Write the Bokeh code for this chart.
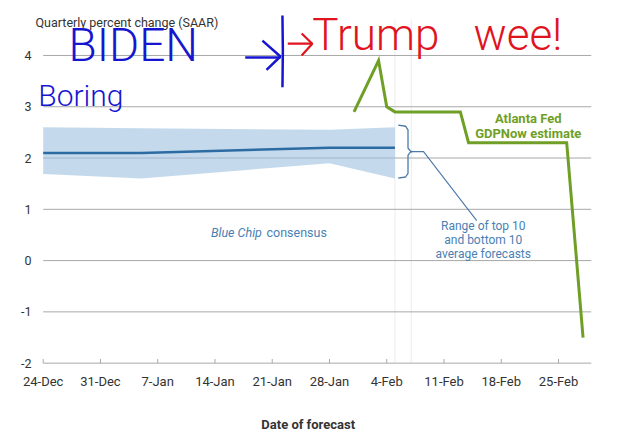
import pandas as pd
from bokeh.plotting import figure
from bokeh.models import Label, Range1d
from bokeh.core.properties import value
from bokeh.embed import file_html
from bokeh.resources import INLINE

# ---------------- data ----------------
origin = pd.Timestamp("2024-12-24")

tick_dates = ["2024-12-24", "2024-12-31", "2025-01-07", "2025-01-14", "2025-01-21",
              "2025-01-28", "2025-02-04", "2025-02-11", "2025-02-18", "2025-02-25"]
tick_labels = ["24-Dec", "31-Dec", "7-Jan", "14-Jan", "21-Jan",
               "28-Jan", "4-Feb", "11-Feb", "18-Feb", "25-Feb"]
y_ticks = [-2, -1, 0, 1, 2, 3, 4]
y_tick_labels = ["-2", "-1", "0", "1", "2", "3", "4"]

bc_dates = ["2024-12-24", "2025-01-05", "2025-01-28", "2025-02-05"]
bc_consensus = [2.1, 2.1, 2.2, 2.2]
bc_top10 = [2.6, 2.58, 2.55, 2.6]
bc_bottom10 = [1.69, 1.6, 1.9, 1.6]

gdpnow_dates = ["2025-01-31", "2025-02-03", "2025-02-04", "2025-02-05",
                "2025-02-13", "2025-02-14", "2025-02-26", "2025-02-28"]
gdpnow_values = [2.9, 3.9, 3.0, 2.9, 2.9, 2.3, 2.3, -1.5]

marker_dates = ["2025-02-05", "2025-02-07"]   # faint vertical guide lines


def days(dates):
    return [(pd.Timestamp(d) - origin).days for d in dates]


tick_x = days(tick_dates)
bc_x = days(bc_dates)
gn_x = days(gdpnow_dates)
mk_x = days(marker_dates)

X_END = 67          # right end of the plotting area (days after origin)
Y_MIN = y_ticks[0]

FONT = "Roboto"
TXT = "#333333"
BLUE_TXT = "#4a7fb3"
GREEN = "#6f9f26"
GRID = "#a8a8a8"

p = figure(width=625, height=433, output_backend="svg", toolbar_location=None,
           x_range=Range1d(-5.22, 71.19), y_range=Range1d(-3.372, 5.072),
           x_axis_location=None, y_axis_location=None,
           min_border_left=0, min_border_right=0, min_border_top=0,
           min_border_bottom=0)
p.title.visible = False
p.outline_line_color = None
p.background_fill_color = "white"
p.border_fill_color = "white"
p.grid.visible = False

# faint vertical guide lines
p.segment(x0=mk_x, x1=mk_x, y0=[Y_MIN] * len(mk_x), y1=[4.7] * len(mk_x),
          line_color="#ececec", line_width=1)

# horizontal grid lines (the lowest one is the x axis line)
p.segment(x0=[0] * len(y_ticks), x1=[X_END] * len(y_ticks), y0=y_ticks, y1=y_ticks,
          line_color=GRID, line_width=1)
# y tick labels
p.text(x=[-1.43] * len(y_ticks), y=y_ticks, text=y_tick_labels,
       text_font=value(FONT), text_font_size="12.5px", text_color=TXT,
       text_align="right", text_baseline="middle")
# x ticks (pointing up) and labels
p.segment(x0=tick_x, x1=tick_x, y0=[Y_MIN] * len(tick_x), y1=[Y_MIN + 0.08] * len(tick_x),
          line_color=GRID, line_width=1)
p.text(x=tick_x, y=[Y_MIN - 0.357] * len(tick_x), text=tick_labels,
       text_font=value(FONT), text_font_size="13px", text_color=TXT,
       text_align="center", text_baseline="middle")

# Blue Chip band and consensus
p.varea(x=bc_x, y1=bc_bottom10, y2=bc_top10, fill_color="#9cc2e0", fill_alpha=0.6)
p.line(bc_x, bc_consensus, line_color="#2d6ca3", line_width=2.5)

# GDPNow
p.line(gn_x, gdpnow_values, line_color=GREEN, line_width=3, line_join="miter")

# brace at end of band
bx = bc_x[-1]
top = bc_top10[-1] + 0.04
bot = bc_bottom10[-1] + 0.01
mid = (top + bot) / 2
brace_x = [bx + 0.4, bx + 1.3, bx + 1.6, bx + 1.6, bx + 1.9, bx + 2.2,
           bx + 1.9, bx + 1.6, bx + 1.6, bx + 1.3, bx + 0.4]
brace_y = [top, top - 0.02, top - 0.09, mid + 0.07, mid + 0.01, mid,
           mid - 0.01, mid - 0.07, bot + 0.09, bot + 0.02, bot]
p.line(brace_x, brace_y, line_color="#4a78a8", line_width=1.3)
p.line([bx + 2.2, bx + 3.5, bx + 10.0], [mid, mid, 0.78], line_color="#4a78a8", line_width=1.1)


# text annotations
def lab(x, y, text, size, color, style="normal", align="left", baseline="middle", font=FONT):
    p.add_layout(Label(x=x, y=y, text=text, text_font=font, text_font_size=size,
                       text_color=color, text_font_style=style, text_align=align,
                       text_baseline=baseline))


lab(-0.94, 4.64, "Quarterly percent change (SAAR)", "12.5px", TXT)
lab(32.4, -3.196, "Date of forecast", "13px", TXT, style="bold", align="center")
lab(20.5, 0.54, "Blue Chip", "12.5px", BLUE_TXT, style="italic")
lab(27.3, 0.54, "consensus", "12.5px", BLUE_TXT)
lab(53.8, 0.68, "Range of top 10", "12px", BLUE_TXT, align="center")
lab(53.8, 0.41, "and bottom 10", "12px", BLUE_TXT, align="center")
lab(53.8, 0.13, "average forecasts", "12px", BLUE_TXT, align="center")
lab(59.3, 2.77, "Atlanta Fed", "13px", GREEN, style="bold", align="center")
lab(59.3, 2.48, "GDPNow estimate", "13px", GREEN, style="bold", align="center")

# handwritten annotations
HAND_BLUE = "#1616d0"
HAND_RED = "#e0141e"
HAND_FONT = "'Roboto Light', Roboto"
lab(3.1, 4.21, "BIDEN", "46px", HAND_BLUE, baseline="alphabetic", font=HAND_FONT)
lab(-0.6, 3.22, "Boring", "30px", HAND_BLUE, baseline="alphabetic", font=HAND_FONT)
lab(32.9, 4.39, "Trump", "44px", HAND_RED, baseline="alphabetic", font=HAND_FONT)
lab(52.6, 4.39, "wee!", "44px", HAND_RED, baseline="alphabetic", font=HAND_FONT)

# hand-drawn arrows
p.line([24.7, 29.0], [3.96, 3.96], line_color=HAND_BLUE, line_width=2.5)
p.line([26.8, 29.0, 27.3], [4.29, 3.98, 3.72], line_color=HAND_BLUE, line_width=2.5)
p.line([29.25, 29.3, 29.25], [4.78, 4.1, 3.38], line_color=HAND_BLUE, line_width=2.5)
p.line([29.9, 32.9], [4.23, 4.23], line_color=HAND_RED, line_width=2.2)
p.line([31.6, 32.9, 31.6], [4.43, 4.23, 4.0], line_color=HAND_RED, line_width=2.2)

open("out.html", "w").write(file_html(p, INLINE))
